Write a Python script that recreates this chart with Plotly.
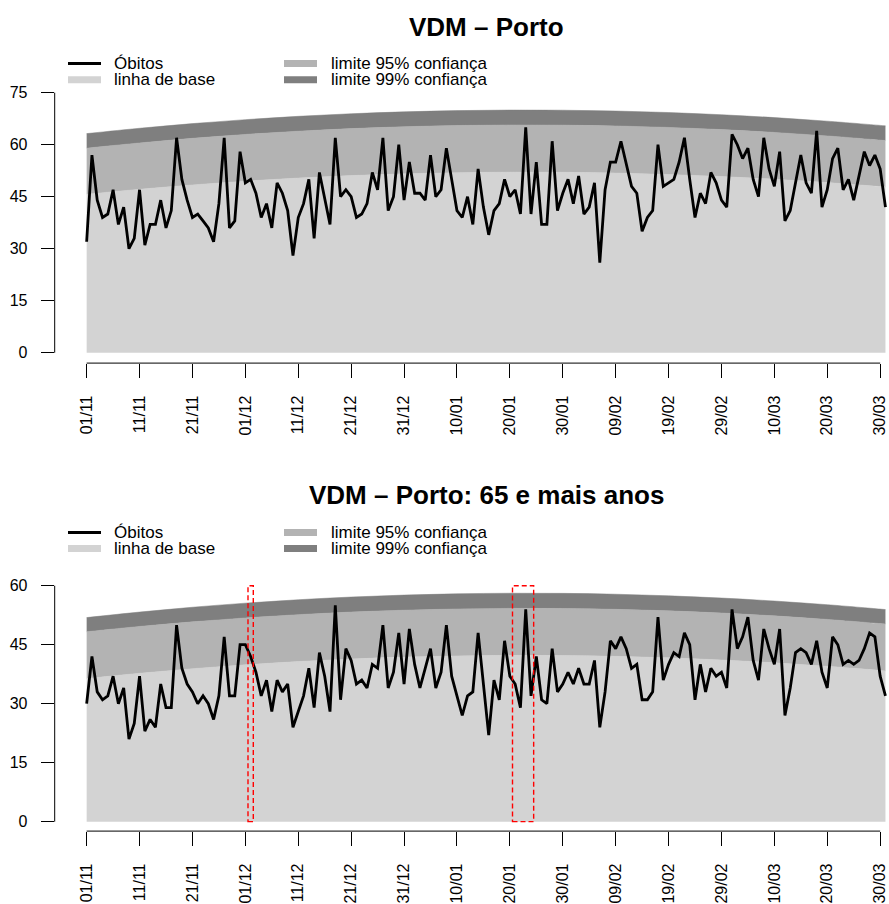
import plotly.graph_objects as go

# ---------------- data ----------------
days = list(range(152))  # 01/11 .. 31/03 (daily index)
tick_days = [0, 10, 20, 30, 40, 50, 60, 70, 80, 90, 100, 110, 120, 130, 140, 150]
tick_labels = ["01/11", "11/11", "21/11", "01/12", "11/12", "21/12", "31/12", "10/01",
               "20/01", "30/01", "09/02", "19/02", "29/02", "10/03", "20/03", "30/03"]

knot_days = [0, 10, 20, 30, 40, 50, 60, 70, 80, 90, 100, 110, 120, 130, 140, 150, 151]

porto_obitos = [
    32, 57, 44, 39, 40, 47, 37, 42, 30, 33,
    47, 31, 37, 37, 44, 36, 41, 62, 50, 44,
    39, 40, 38, 36, 32, 43, 62, 36, 38, 58,
    49, 50, 46, 39, 43, 36, 49, 46, 41, 28,
    39, 43, 50, 33, 52, 45, 37, 62, 45, 47,
    45, 39, 40, 43, 52, 47, 62, 41, 45, 60,
    44, 55, 46, 46, 44, 57, 45, 47, 59, 50,
    41, 39, 45, 37, 53, 42, 34, 41, 43, 50,
    45, 47, 40, 65, 40, 55, 37, 37, 61, 41,
    46, 50, 43, 51, 40, 42, 49, 26, 47, 55,
    55, 61, 54, 48, 46, 35, 39, 41, 60, 48,
    49, 50, 55, 62, 50, 39, 46, 43, 52, 49,
    44, 42, 63, 60, 56, 59, 50, 45, 62, 53,
    48, 58, 38, 41, 49, 57, 49, 46, 64, 42,
    47, 56, 59, 47, 50, 44, 51, 58, 54, 57,
    53, 42]
porto_base = [45.70, 47.15, 48.41, 49.49, 50.38, 51.09, 51.61, 51.94, 52.09,
              52.05, 51.83, 51.42, 50.83, 50.05, 49.08, 47.93, 47.80]
porto_lim95 = [59.00, 60.51, 61.84, 62.97, 63.90, 64.64, 65.19, 65.54, 65.69,
               65.65, 65.42, 64.99, 64.37, 63.55, 62.54, 61.33, 61.20]
porto_lim99 = [63.20, 64.74, 66.08, 67.23, 68.18, 68.93, 69.48, 69.83, 69.99,
               69.95, 69.71, 69.28, 68.65, 67.82, 66.79, 65.57, 65.44]

idosos_obitos = [
    30, 42, 33, 31, 32, 37, 30, 34, 21, 25,
    37, 23, 26, 24, 35, 29, 29, 50, 39, 35,
    33, 30, 32, 30, 26, 32, 47, 32, 32, 45,
    45, 42, 38, 32, 36, 28, 36, 33, 35, 24,
    28, 32, 39, 29, 43, 37, 28, 55, 31, 44,
    41, 35, 36, 34, 40, 39, 50, 34, 38, 48,
    35, 49, 40, 34, 39, 44, 34, 38, 50, 37,
    32, 27, 32, 33, 48, 35, 22, 36, 31, 46,
    37, 35, 29, 54, 32, 42, 31, 30, 44, 33,
    35, 38, 35, 39, 35, 35, 41, 24, 33, 46,
    44, 47, 44, 39, 40, 31, 31, 33, 52, 36,
    40, 43, 42, 48, 45, 31, 40, 33, 39, 37,
    38, 34, 54, 44, 47, 52, 41, 36, 49, 44,
    40, 49, 27, 34, 43, 44, 43, 40, 46, 38,
    34, 47, 45, 40, 41, 40, 41, 44, 48, 47,
    37, 32]
idosos_base = [36.40, 37.74, 38.90, 39.90, 40.72, 41.37, 41.85, 42.16, 42.29,
               42.26, 42.05, 41.68, 41.13, 40.41, 39.52, 38.46, 38.34]
idosos_lim95 = [48.30, 49.65, 50.82, 51.82, 52.65, 53.31, 53.79, 54.10, 54.24,
                54.21, 54.00, 53.62, 53.07, 52.34, 51.44, 50.37, 50.25]
idosos_lim99 = [51.90, 53.30, 54.53, 55.57, 56.44, 57.12, 57.62, 57.95, 58.09,
                58.06, 57.84, 57.44, 56.87, 56.11, 55.18, 54.06, 53.94]

# highlighted periods (bottom panel), in day index
highlight_x0 = [30.5, 80.5]
highlight_x1 = [31.5, 84.5]

titles = ["VDM – Porto", "VDM – Porto: 65 e mais anos"]
legend_labels = ["Óbitos", "linha de base", "limite 95% confiança", "limite 99% confiança"]

# ---------------- styling ----------------
W, H = 889, 904
FONT = "Liberation Sans, Arial, Helvetica, sans-serif"
C_BASE = "#d3d3d3"
C_95 = "#b3b3b3"
C_99 = "#7f7f7f"


def px(xp):
    return xp / W


def py(yp):
    return 1 - yp / H


fig = go.Figure()


def add_panel(xa, ya, obitos, base, l95, l99):
    common = dict(xaxis=xa, yaxis=ya, hoverinfo="skip", showlegend=False,
                  mode="lines", line_shape="spline")
    fig.add_trace(go.Scatter(x=knot_days, y=base, fill="tozeroy", fillcolor=C_BASE,
                             line=dict(color=C_BASE, width=0.5), **common))
    fig.add_trace(go.Scatter(x=knot_days, y=l95, fill="tonexty", fillcolor=C_95,
                             line=dict(color=C_95, width=0.5), **common))
    fig.add_trace(go.Scatter(x=knot_days, y=l99, fill="tonexty", fillcolor=C_99,
                             line=dict(color=C_99, width=0.5), **common))
    fig.add_trace(go.Scatter(x=days, y=obitos, mode="lines", xaxis=xa, yaxis=ya,
                             line=dict(color="black", width=2.8), showlegend=False))


add_panel("x", "y", porto_obitos, porto_base, porto_lim95, porto_lim99)
add_panel("x2", "y2", idosos_obitos, idosos_base, idosos_lim95, idosos_lim99)

xcommon = dict(range=[-6.04, 151.67], domain=[px(54.7), 1.0], tickmode="array",
               tickvals=tick_days, ticktext=tick_labels, tickangle=-90,
               ticks="outside", ticklen=14, tickwidth=1, tickcolor="black",
               showgrid=False, zeroline=False, showline=False,
               tickfont=dict(size=16, color="black", family=FONT),
               ticklabelstandoff=11)
ycommon = dict(ticks="outside", ticklen=13, tickwidth=1, tickcolor="black",
               showgrid=False, zeroline=False, showline=False,
               tickfont=dict(size=16, color="black", family=FONT),
               ticklabelstandoff=10)

fig.update_layout(
    width=W, height=H, margin=dict(l=0, r=0, t=0, b=0),
    paper_bgcolor="white", plot_bgcolor="white",
    font=dict(family=FONT, color="black"),
    showlegend=False,
    xaxis=dict(anchor="y", **xcommon),
    yaxis=dict(anchor="x", domain=[py(363.1), py(82.3)], range=[-3, 78],
               tickvals=[0, 15, 30, 45, 60, 75], **ycommon),
    xaxis2=dict(anchor="y2", **xcommon),
    yaxis2=dict(anchor="x2", domain=[py(831.1), py(576.3)], range=[-2.4, 62.4],
                tickvals=[0, 15, 30, 45, 60], **ycommon),
)

shapes = []
# axis lines (R style: only between first and last tick)
for xa, ya, ytop in [("x", "y", 75), ("x2", "y2", 60)]:
    shapes.append(dict(type="line", xref=xa + " domain", yref=ya, x0=0, x1=0,
                       y0=0, y1=ytop, line=dict(color="black", width=1)))
    shapes.append(dict(type="line", xref=xa, yref=ya + " domain", x0=tick_days[0],
                       x1=tick_days[-1], y0=0, y1=0, line=dict(color="black", width=1)))

# highlighted periods
for a, b in zip(highlight_x0, highlight_x1):
    shapes.append(dict(type="rect", xref="x2", yref="y2", x0=a, x1=b, y0=0, y1=60,
                       line=dict(color="red", width=1.4, dash="5px,3px"),
                       fillcolor="rgba(0,0,0,0)"))

annotations = []
legend_colors = ["black", C_BASE, C_95, C_99]
legend_widths = [3, 7, 7, 7]
for title, ty, row1, row2 in [(titles[0], 26.5, 63.5, 79.8), (titles[1], 495.5, 532.5, 548.5)]:
    annotations.append(dict(text="<b>" + title + "</b>", x=px(486), y=py(ty),
                            xref="paper", yref="paper", xanchor="center", yanchor="middle",
                            showarrow=False, font=dict(size=26, color="black", family=FONT)))
    positions = [(68, 101, 111.7, row1), (68, 101, 111.7, row2),
                 (284, 317, 329.3, row1), (284, 317, 329.3, row2)]
    for (x0, x1, tx, ry), lab, col, lw in zip(positions, legend_labels, legend_colors, legend_widths):
        shapes.append(dict(type="line", xref="paper", yref="paper", x0=px(x0), x1=px(x1),
                           y0=py(ry), y1=py(ry), line=dict(color=col, width=lw)))
        annotations.append(dict(text=lab, x=px(tx), y=py(ry), xref="paper", yref="paper",
                                xanchor="left", yanchor="middle", showarrow=False,
                                font=dict(size=17, color="black", family=FONT)))

fig.update_layout(shapes=shapes, annotations=annotations)
fig.write_html("out.html", config={"displayModeBar": False},
               post_script="document.body.style.margin='0';document.body.style.overflow='hidden';")
